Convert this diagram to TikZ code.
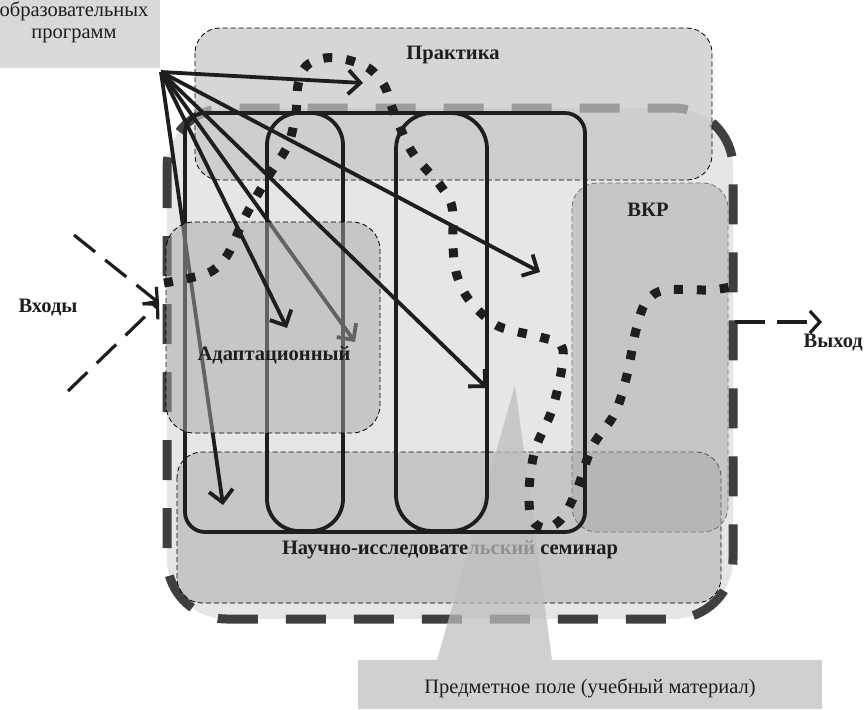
\documentclass[tikz,border=0pt]{standalone}
\usepackage{fontspec}
\setmainfont{Liberation Serif}
\usepackage{xcolor}
\usetikzlibrary{arrows.meta,calc}
\definecolor{edOuter}{HTML}{E6E6E6}
\definecolor{edRim}{HTML}{3F3F3F}
\definecolor{edNote}{HTML}{D9D9D9}
\definecolor{edPrak}{HTML}{C4C4C4}
\definecolor{edZone}{HTML}{A8A8A8}
\definecolor{edDark}{HTML}{1E1E1E}
\definecolor{edCone}{HTML}{BEBEBE}
\definecolor{edField}{HTML}{D0D0D0}
\tikzset{
  zone/.style={draw=black, line width=0.8pt, dash pattern=on 5pt off 3pt, rounded corners=25pt, fill=edZone, fill opacity=0.5},
  zonep/.style={zone, fill=edPrak, fill opacity=0.7},
  zoneg/.style={zone, draw=black!55},
  frm/.style={draw=edDark, line width=3.8pt},
  arr/.style={-{Straight Barb[length=12pt,width=24pt]}, line width=3.8pt, edDark},
  inarr/.style={-{Straight Barb[length=10pt,width=22pt]}, line width=3.2pt, edDark, dash pattern=on 27pt off 13pt},
  flow/.style={line width=9pt, edDark, dash pattern=on 9pt off 14pt},
  lbl/.style={font=\fontsize{20.5}{22}\selectfont\bfseries, text=edDark, inner sep=0pt},
  lbln/.style={font=\fontsize{20.5}{22}\selectfont, text=edDark, inner sep=0pt, align=center},
}

\begin{document}
\begin{tikzpicture}[x=1pt,y=-1pt]
  \useasboundingbox (0,0) rectangle (864,709);
  % note in the corner
  \fill[edNote] (0,0) rectangle (160,68);
  \node[lbln] (prog) at (74,22) {образовательных\\программ};
  % outer system
  \draw[fill=edOuter, draw=edRim, line width=9pt, dash pattern=on 40pt off 28pt, rounded corners=60pt]
    (167,108) rectangle (733,619);
  % zones
  \draw[zonep] (195,28) rectangle (712,180);
  \draw[zone] (177,452) rectangle (721,603);
  \draw[zoneg] (572,183) rectangle (728,532);
  \node[lbl] (sem) at (450,550) {Научно-исследовательский семинар};
  % subject field cone
  \fill[edCone, fill opacity=0.73] (515,385) -- (552,660) -- (437,660) -- cycle;
  % study frame
  \draw[frm, rounded corners=20pt] (185,113) rectangle (585,532);
  \draw[frm, rounded corners=32pt] (267,113) rectangle (343,531);
  \draw[frm, rounded corners=36pt] (396,113) rectangle (487,531);
  % entry point of the programme arrows
  \coordinate (src) at (161,72);
  \coordinate (t1) at (363,83);
  \coordinate (t2) at (540,272);
  \coordinate (t3) at (487,388);
  \coordinate (t4) at (287,328);
  \coordinate (t5) at (355,342);
  \coordinate (t6) at (223,505);
  \draw[arr] (src) -- (t5);
  \draw[arr] (src) -- (t6);
  % adaptation zone
  \draw[zone, rounded corners=28pt] (166,222) rectangle (380,433);
  \draw[arr] (src) -- (t1);
  \draw[arr] (src) -- (t2);
  \draw[arr] (src) -- (t3);
  \draw[arr] (src) -- (t4);
  % learning trajectory
  \draw[flow] plot[smooth, tension=0.55] coordinates {
    (164,283) (190,278) (212,271) (228,254) (245,217) (268,177) (288,145)
    (296,112) (298,85) (306,66) (325,58) (348,60) (370,69) (385,87) (393,110)
    (412,152) (440,185) (452,207) (453,247) (456,272) (465,294) (480,312)
    (500,327) (540,337) (561,345) (562,367) (552,410) (535,450) (529,490)
    (532,520) (547,528) (563,517) (578,487) (592,447) (615,413) (627,375)
    (636,330) (646,302) (665,290) (710,290) (730,287)};
  % inputs and output
  \coordinate (in) at (159,303);
  \coordinate (inA) at (74,235);
  \coordinate (inB) at (68,391);
  \coordinate (outA) at (735,322);
  \coordinate (outB) at (822,322);
  \draw[inarr] (inA) -- (in);
  \draw[inarr] (inB) -- (in);
  \draw[inarr, dash pattern=on 30pt off 12pt] (outA) -- (outB);
  % labels
  \node[lbl] (prak) at (453,55) {Практика};
  \node[lbl] (vkr) at (648,210) {ВКР};
  \node[lbl] (adapt) at (274,355) {Адаптационный};
  \node[lbl] (inp) at (48,308) {Входы};
  \node[lbl, anchor=east] (outp) at (863,343) {Выход};
  % subject field
  \fill[edField] (358,660) rectangle (822,709);
  \node[lbln] (field) at (590,688) {Предметное поле (учебный материал)};
\end{tikzpicture}
\end{document}
